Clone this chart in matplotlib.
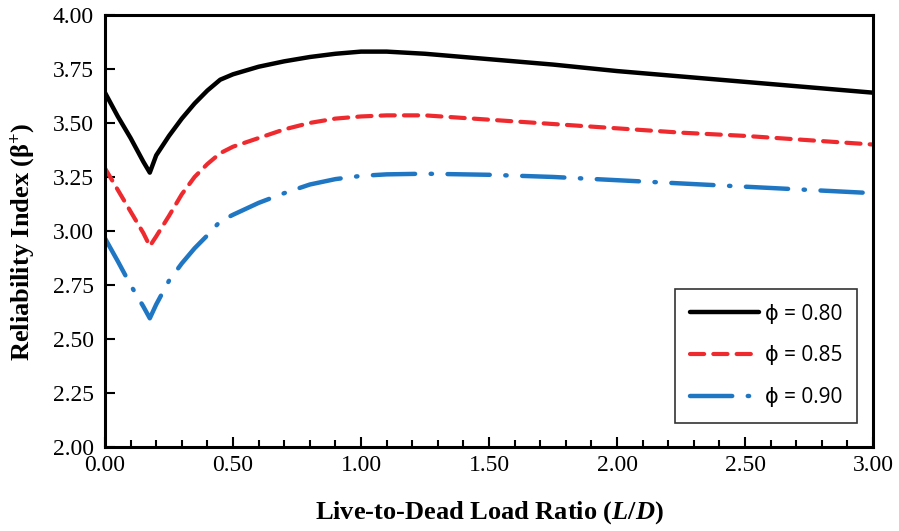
import matplotlib.pyplot as plt
from matplotlib.ticker import MultipleLocator, FormatStrFormatter

# live-to-dead load ratio
ld_ratio = [0.0, 0.05, 0.1, 0.15, 0.175, 0.2, 0.25, 0.3, 0.35, 0.4, 0.45, 0.5,
            0.6, 0.7, 0.8, 0.9, 1.0, 1.1, 1.25, 1.5, 1.75, 2.0, 2.25, 2.5, 2.75, 3.0]

# reliability index for each resistance factor
beta_080 = [3.64, 3.53, 3.43, 3.32, 3.27, 3.35, 3.44, 3.52, 3.59, 3.65, 3.70, 3.725,
            3.76, 3.785, 3.805, 3.82, 3.83, 3.83, 3.82, 3.795, 3.77, 3.74, 3.715, 3.69, 3.665, 3.64]
beta_085 = [3.29, 3.19, 3.09, 2.99, 2.93, 2.975, 3.07, 3.17, 3.25, 3.31, 3.36, 3.39,
            3.43, 3.47, 3.50, 3.52, 3.53, 3.535, 3.535, 3.515, 3.495, 3.475, 3.455, 3.44, 3.42, 3.40]
beta_090 = [2.966, 2.86, 2.75, 2.65, 2.596, 2.66, 2.77, 2.85, 2.92, 2.98, 3.045, 3.075,
            3.13, 3.175, 3.215, 3.24, 3.255, 3.262, 3.265, 3.26, 3.25, 3.235, 3.22, 3.205, 3.19, 3.175]

labels = ['\u03d5 = 0.80', '\u03d5 = 0.85', '\u03d5 = 0.90']

plt.rcParams['font.family'] = 'Liberation Serif'
plt.rcParams['mathtext.fontset'] = 'custom'
plt.rcParams['mathtext.rm'] = 'Liberation Serif:bold'
plt.rcParams['mathtext.it'] = 'Liberation Serif:bold:italic'
plt.rcParams['mathtext.bf'] = 'Liberation Serif:bold'

fig = plt.figure(figsize=(8.99, 5.31), dpi=100)
ax = fig.add_axes([0.1168, 0.158, 0.8543, 0.814])

ax.plot(ld_ratio, beta_080, color='black', lw=3.2, label=labels[0], solid_capstyle='round')
ax.plot(ld_ratio, beta_085, color='#ee2a2f', lw=3.0, dashes=(3.4, 2.2), label=labels[1],
        dash_capstyle='round')
ax.plot(ld_ratio, beta_090, color='#1f77c4', lw=3.2, dashes=(9.5, 3.5, 0.3, 3.5), label=labels[2],
        dash_capstyle='round')

ax.set_xlim(0, 3)
ax.set_ylim(2, 4)
ax.xaxis.set_major_locator(MultipleLocator(0.5))
ax.xaxis.set_minor_locator(MultipleLocator(0.1))
ax.yaxis.set_major_locator(MultipleLocator(0.25))
ax.xaxis.set_major_formatter(FormatStrFormatter('%.2f'))
ax.yaxis.set_major_formatter(FormatStrFormatter('%.2f'))

ax.tick_params(which='both', direction='in', width=1.5, labelsize=17)
ax.tick_params(which='major', length=7, pad=6)
ax.tick_params(which='minor', length=5)
ax.tick_params(axis='y', which='major', pad=8)
for s in ax.spines.values():
    s.set_linewidth(2.2)

ax.set_xlabel(r'Live-to-Dead Load Ratio ($L$/$D$)', fontsize=19, fontweight='bold', labelpad=16)
ax.set_ylabel(r'Reliability Index (β$^{+}$)', fontsize=19, fontweight='bold')
ax.yaxis.set_label_coords(-0.088, 0.476)

leg = ax.legend(loc='lower right', bbox_to_anchor=(0.979, 0.056), borderaxespad=0,
                frameon=True, fancybox=False, edgecolor='black',
                prop={'family': ['Open Sans', 'DejaVu Sans'], 'size': 15},
                handlelength=3.3, labelspacing=1.0, borderpad=0.7, handletextpad=0.3)
leg.get_frame().set_linewidth(1.2)

fig.savefig('out.png', dpi=100)
